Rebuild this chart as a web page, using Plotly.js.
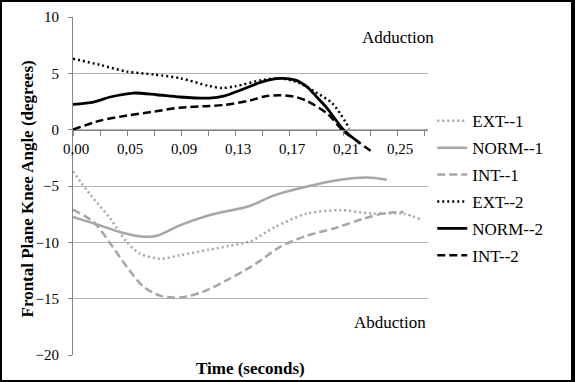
<!DOCTYPE html>
<html>
<head>
<meta charset="utf-8">
<script src="https://cdn.plot.ly/plotly-3.0.1.min.js"></script>
<style>
html,body{margin:0;padding:0;background:#fff;}
#wrap{position:relative;width:575px;height:382px;overflow:hidden;}
#chart{position:absolute;left:0;top:0;width:575px;height:382px;}
#frame{position:absolute;left:0;top:0;width:575px;height:382px;box-sizing:border-box;border-style:solid;border-color:#000;border-width:2px 4px 2px 2px;pointer-events:none;}
</style>
</head>
<body>
<div id="wrap"><div id="chart"></div><div id="frame"></div></div>
<script>
// Tick labels (x axis, seconds)
const xTickVals = [0, 0.042, 0.084, 0.126, 0.168, 0.21, 0.252];
const xTickText = ["0,00", "0,05", "0,09", "0,13", "0,17", "0,21", "0,25"];
const yTickVals = [10, 5, 0, -5, -10, -15, -20];

// Series names
const seriesNames = ["EXT--1", "NORM--1", "INT--1", "EXT--2", "NORM--2", "INT--2"];

// EXT--1
const ext1T = [0.000, 0.013, 0.029, 0.042, 0.052, 0.068, 0.083, 0.106, 0.122, 0.138, 0.157, 0.182, 0.208, 0.233, 0.257, 0.272];
const ext1Y = [-3.7, -5.7, -7.9, -10.0, -11.0, -11.45, -11.15, -10.65, -10.3, -9.9, -8.65, -7.45, -7.15, -7.45, -7.45, -8.05];
// NORM--1
const norm1T = [0.000, 0.021, 0.037, 0.055, 0.066, 0.083, 0.106, 0.138, 0.156, 0.182, 0.208, 0.229, 0.244];
const norm1Y = [-7.75, -8.5, -9.1, -9.5, -9.4, -8.5, -7.6, -6.75, -5.85, -5.05, -4.45, -4.25, -4.45];
// INT--1
const int1T = [0.000, 0.016, 0.029, 0.042, 0.055, 0.068, 0.083, 0.101, 0.119, 0.138, 0.146, 0.161, 0.182, 0.202, 0.226, 0.241, 0.257];
const int1Y = [-7.1, -8.2, -10.1, -12.2, -13.95, -14.75, -14.9, -14.4, -13.4, -12.2, -11.6, -10.4, -9.4, -8.8, -7.9, -7.45, -7.3];
// EXT--2
const ext2T = [0.000, 0.021, 0.042, 0.063, 0.084, 0.105, 0.116, 0.126, 0.147, 0.161, 0.175, 0.189, 0.202, 0.215];
const ext2Y = [6.3, 5.75, 5.15, 4.9, 4.55, 3.9, 3.7, 3.85, 4.4, 4.55, 4.2, 3.3, 2.3, 0.1];
// NORM--2
const norm2T = [0.000, 0.016, 0.029, 0.047, 0.065, 0.083, 0.106, 0.118, 0.130, 0.147, 0.161, 0.173, 0.182, 0.190, 0.198, 0.210, 0.223];
const norm2Y = [2.25, 2.45, 2.9, 3.25, 3.1, 2.9, 2.8, 3.0, 3.5, 4.25, 4.55, 4.4, 3.8, 2.85, 1.85, 0.05, -1.2];
// INT--2
const int2T = [0.000, 0.021, 0.042, 0.063, 0.083, 0.106, 0.118, 0.138, 0.149, 0.161, 0.173, 0.182, 0.198, 0.210, 0.222, 0.233];
const int2Y = [0, 0.8, 1.25, 1.6, 1.95, 2.1, 2.2, 2.6, 2.95, 3.05, 2.9, 2.55, 1.4, -0.1, -1.1, -2.0];

const GRAY = "#a6a6a6";
const FONT = "Liberation Serif";

function tr(name, x, y, color, dash, width, grp) {
  return {
    type: "scatter", mode: "lines", name: name, x: x, y: y,
    legendgroup: grp,
    line: {color: color, dash: dash, width: width, shape: "spline", smoothing: 0.8}
  };
}

const data = [
  tr(seriesNames[0], ext1T, ext1Y, GRAY, "2px,3px", 2.5, "g1"),
  tr(seriesNames[1], norm1T, norm1Y, GRAY, "solid", 2.5, "g2"),
  tr(seriesNames[2], int1T, int1Y, GRAY, "8px,4px", 2.5, "g3"),
  tr(seriesNames[3], ext2T, ext2Y, "#000", "2px,3px", 2.5, "g4"),
  tr(seriesNames[4], norm2T, norm2Y, "#000", "solid", 2.8, "g5"),
  tr(seriesNames[5], int2T, int2Y, "#000", "8px,4px", 2.5, "g6")
];

const layout = {
  width: 575, height: 382,
  margin: {l: 73, r: 147, t: 17, b: 27, pad: 0},
  paper_bgcolor: "#fff", plot_bgcolor: "#fff",
  font: {family: FONT, size: 15, color: "#000"},
  showlegend: true,
  legend: {
    x: 1.012, xanchor: "left", y: 0.745, yanchor: "top",
    font: {family: FONT, size: 17, color: "#000"},
    tracegroupgap: 1.8, bgcolor: "rgba(0,0,0,0)", borderwidth: 0,
    traceorder: "grouped"
  },
  xaxis: {
    range: [0, 0.2761], anchor: "free", position: 2/3,
    tickmode: "array", tickvals: xTickVals, ticktext: xTickText,
    ticks: "outside", ticklen: 5, tickcolor: "#868686", tickwidth: 1,
    ticklabelshift: 3,
    showline: true, linecolor: "#868686", linewidth: 1.2,
    showgrid: false, zeroline: false,
    tickfont: {family: FONT, size: 15, color: "#000"},
    minor: {tickmode: "linear", tick0: 0, dtick: 0.021, ticks: "outside", ticklen: 5, tickcolor: "#868686", showgrid: false}
  },
  yaxis: {
    range: [-20, 10], tickmode: "array", tickvals: yTickVals,
    ticks: "outside", ticklen: 4, tickcolor: "#868686",
    ticklabelstandoff: 6,
    showline: true, linecolor: "#868686", linewidth: 1,
    showgrid: true, gridcolor: "#b3b3b3", gridwidth: 1, zeroline: false,
    tickfont: {family: FONT, size: 15, color: "#000"}
  },
  annotations: [
    {text: "Adduction", xref: "paper", yref: "paper", x: 0.9155, y: 0.938, showarrow: false, xanchor: "center", yanchor: "middle", font: {family: FONT, size: 17, color: "#000"}},
    {text: "Abduction", xref: "paper", yref: "paper", x: 0.893, y: 0.095, showarrow: false, xanchor: "center", yanchor: "middle", font: {family: FONT, size: 17, color: "#000"}},
    {text: "<b>Time (seconds)</b>", xref: "paper", yref: "paper", x: 0.5, y: -0.0385, showarrow: false, xanchor: "center", yanchor: "middle", font: {family: FONT, size: 17, color: "#000"}},
    {text: "<b>Frontal Plane Knee Angle (degrees)</b>", xref: "paper", yref: "paper", x: -0.1268, y: 0.4926, textangle: -90, showarrow: false, xanchor: "center", yanchor: "middle", font: {family: FONT, size: 17, color: "#000"}}
  ]
};

Plotly.newPlot("chart", data, layout, {staticPlot: true, displayModeBar: false});
</script>
</body>
</html>
